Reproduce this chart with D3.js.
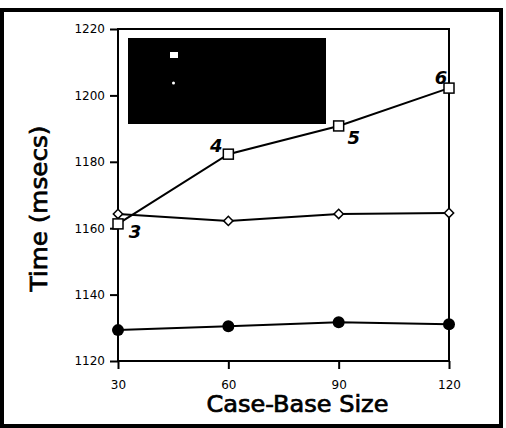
<!DOCTYPE html>
<html>
<head>
<meta charset="utf-8">
<script src="https://cdn.jsdelivr.net/npm/d3@7"></script>
<style>
  body { margin: 0; background: #fff; }
  svg { display: block; font-family: "DejaVu Sans", sans-serif; }
  .title { font-family: "DejaVu Sans", sans-serif; font-weight: normal; stroke: #000; stroke-width: 0.7px; }
</style>
</head>
<body>
<svg id="chart" width="506" height="428"></svg>
<script>
// case-base sizes on the x axis
const sizes = [30, 60, 90, 120];
const yTicks = [1120, 1140, 1160, 1180, 1200, 1220];
// three series
const squareTimes = [1161.3, 1182.3, 1190.8, 1202.2];
const diamondTimes = [1164.3, 1162.2, 1164.3, 1164.6];
const circleTimes = [1129.3, 1130.5, 1131.7, 1131.1];
// point labels on the square series
const squareLabels = ["3", "4", "5", "6"];

const svg = d3.select("#chart");

// outer frame
svg.append("rect")
  .attr("x", 2).attr("y", 10)
  .attr("width", 499).attr("height", 416)
  .attr("fill", "none").attr("stroke", "#000").attr("stroke-width", 4);

const pLeft = 118, pRight = 449, pTop = 29, pBottom = 361;

const x = d3.scaleLinear().domain([30, 120]).range([pLeft, pRight]);
const y = d3.scaleLinear().domain([1120, 1220]).range([pBottom, pTop]);

// plot box
svg.append("rect")
  .attr("x", pLeft).attr("y", pTop)
  .attr("width", pRight - pLeft).attr("height", pBottom - pTop)
  .attr("fill", "none").attr("stroke", "#000").attr("stroke-width", 2);

// y axis
const yAxis = svg.append("g")
  .attr("transform", "translate(" + pLeft + ",0)")
  .call(d3.axisLeft(y).tickValues(yTicks).tickFormat(d3.format("d")).tickSize(8).tickPadding(5));
yAxis.select(".domain").remove();
yAxis.selectAll("line").attr("stroke-width", 2);
yAxis.selectAll("text").style("font-size", "12px").style("font-family", "DejaVu Sans");

// x axis
const xAxis = svg.append("g")
  .attr("transform", "translate(0," + pBottom + ")")
  .call(d3.axisBottom(x).tickValues(sizes).tickFormat(d3.format("d")).tickSize(8).tickPadding(11));
xAxis.select(".domain").remove();
xAxis.selectAll("line").attr("stroke-width", 2);
xAxis.selectAll("text").style("font-size", "12px").style("font-family", "DejaVu Sans");

// axis titles
svg.append("text")
  .attr("class", "title")
  .attr("x", 297.5).attr("y", 412)
  .attr("text-anchor", "middle")
  .attr("textLength", 182)
  .attr("lengthAdjust", "spacingAndGlyphs")
  .style("font-size", "22.5px")
  .text("Case-Base Size");

svg.append("text")
  .attr("class", "title")
  .attr("transform", "translate(47," + 208.5 + ") rotate(-90)")
  .attr("text-anchor", "middle")
  .attr("textLength", 166)
  .attr("lengthAdjust", "spacingAndGlyphs")
  .style("font-size", "23px")
  .text("Time (msecs)");

const line = d3.line()
  .x((d, i) => x(sizes[i]))
  .y(d => y(d));

[circleTimes, diamondTimes, squareTimes].forEach(s => {
  svg.append("path")
    .attr("d", line(s))
    .attr("fill", "none")
    .attr("stroke", "#000")
    .attr("stroke-width", 2);
});

// circles
svg.selectAll("circle.pt")
  .data(circleTimes)
  .enter()
  .append("circle")
  .attr("class", "pt")
  .attr("cx", (d, i) => x(sizes[i]))
  .attr("cy", d => y(d))
  .attr("r", 6)
  .attr("fill", "#000");

// diamonds
svg.selectAll("path.dia")
  .data(diamondTimes)
  .enter()
  .append("path")
  .attr("class", "dia")
  .attr("d", d3.symbol().type(d3.symbolDiamond2).size(55))
  .attr("transform", (d, i) => "translate(" + x(sizes[i]) + "," + y(d) + ")")
  .attr("fill", "#fff").attr("stroke", "#000").attr("stroke-width", 1.5);

// squares
svg.selectAll("rect.sq")
  .data(squareTimes)
  .enter()
  .append("rect")
  .attr("class", "sq")
  .attr("x", (d, i) => x(sizes[i]) - 5)
  .attr("y", d => y(d) - 5)
  .attr("width", 10).attr("height", 10)
  .attr("fill", "#fff").attr("stroke", "#000").attr("stroke-width", 1.5);

// point labels
const labelOffsets = [[17, 14], [-12, -2], [15, 18], [-8, -4]];
svg.selectAll("text.lbl")
  .data(squareTimes)
  .enter()
  .append("text")
  .attr("class", "lbl")
  .attr("x", (d, i) => x(sizes[i]) + labelOffsets[i][0])
  .attr("y", (d, i) => y(d) + labelOffsets[i][1])
  .attr("text-anchor", "middle")
  .style("font-size", "18px")
  .style("font-weight", "bold")
  .style("font-style", "italic")
  .text((d, i) => squareLabels[i]);

// legend: solid black box with white markers
svg.append("rect")
  .attr("x", 128).attr("y", 38)
  .attr("width", 198).attr("height", 86)
  .attr("fill", "#000");
svg.append("rect")
  .attr("x", 170).attr("y", 52)
  .attr("width", 8).attr("height", 6)
  .attr("fill", "#fff");
svg.append("circle")
  .attr("cx", 173.5).attr("cy", 83)
  .attr("r", 1.5)
  .attr("fill", "#fff");
</script>
</body>
</html>
